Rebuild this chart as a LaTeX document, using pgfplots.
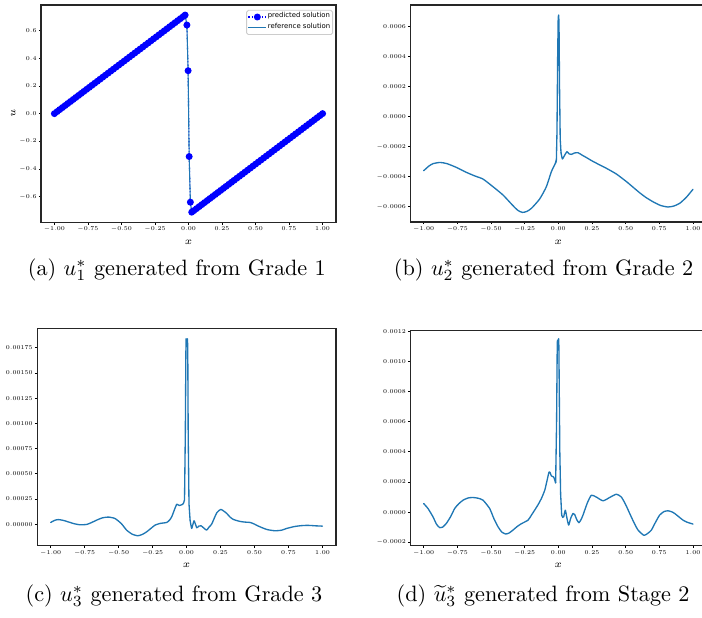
\RequirePackage{fix-cm}
\documentclass[border=0pt]{standalone}
\usepackage{fontspec}
\newfontfamily\legfont{DejaVu Sans}
\usepackage{pgfplots}
\pgfplotsset{compat=1.18}
\definecolor{mplblue}{HTML}{1F77B4}

% 1 px of the reference = 0.45pt
\pgfplotsset{
  panel/.style={
    scale only axis,
    xmin=-1.1, xmax=1.1,
    axis line style={line width=0.5pt, black!85},
    tick align=outside, tick pos=left,
    major tick length=1pt,
    every tick/.style={black, line width=0.35pt},
    tick label style={font=\fontsize{2.65}{3.2}\selectfont, inner sep=0.8pt},
    xtick={-1,-0.75,-0.5,-0.25,0,0.25,0.5,0.75,1},
    x tick label style={/pgf/number format/.cd, fixed, fixed zerofill, precision=2, /tikz/.cd},
    scaled ticks=false,
    xlabel={$x$},
    xlabel style={font=\fontsize{4.5}{5}\selectfont, at={(axis description cs:0.5,0)}, anchor=center, yshift=-9pt},
  },
  curve/.style={mplblue, line width=0.6pt, line cap=round, line join=round, smooth, tension=0.35},
  spike/.style={mplblue, line width=0.6pt, line cap=round, line join=round, sharp plot},
}

\begin{document}
\begin{tikzpicture}
\useasboundingbox (0,0) rectangle (315.9pt,278.1pt);

% (a)
\begin{axis}[panel, at={(18.45pt,178.07pt)}, anchor=south west,
  width=132.75pt, height=97.8pt,
  ymin=-0.785, ymax=0.785,
  ytick={-0.6,-0.4,-0.2,0,0.2,0.4,0.6},
  y tick label style={/pgf/number format/.cd, fixed, fixed zerofill, precision=1, /tikz/.cd},
  ylabel={$u$},
  ylabel style={font=\fontsize{4.5}{5}\selectfont, at={(axis description cs:0,0.5)}, anchor=center, yshift=12.5pt},
  legend style={at={(1,1)}, anchor=north east, xshift=-1.3pt, yshift=-2.2pt,
    font=\fontsize{3.1}{3.6}\selectfont\legfont, draw=black!20, rounded corners=0.8pt,
    inner sep=0.6pt, row sep=0pt, nodes={inner sep=0.5pt}, cells={anchor=west}},
  legend image code/.code={\draw[mark repeat=2,mark phase=2,#1] plot coordinates {(0cm,0cm) (0.14cm,0cm) (0.28cm,0cm)};},
]
\addplot[blue, densely dotted, line width=0.5pt, mark=*, mark size=1.3pt,
  mark options={solid, fill=blue, draw=blue}] coordinates {
(-1,0) (-0.98,0.0146) (-0.96,0.0292) (-0.94,0.0438) (-0.92,0.0584) (-0.9,0.073)
(-0.88,0.0876) (-0.86,0.1022) (-0.84,0.1168) (-0.82,0.1314) (-0.8,0.146)
(-0.78,0.1606) (-0.76,0.1752) (-0.74,0.1898) (-0.72,0.2044) (-0.7,0.219)
(-0.68,0.2336) (-0.66,0.2482) (-0.64,0.2628) (-0.62,0.2774) (-0.6,0.292)
(-0.58,0.3066) (-0.56,0.3212) (-0.54,0.3358) (-0.52,0.3504) (-0.5,0.365)
(-0.48,0.3796) (-0.46,0.3942) (-0.44,0.4088) (-0.42,0.4234) (-0.4,0.438)
(-0.38,0.4526) (-0.36,0.4672) (-0.34,0.4818) (-0.32,0.4964) (-0.3,0.511)
(-0.28,0.5256) (-0.26,0.5402) (-0.24,0.5548) (-0.22,0.5694) (-0.2,0.584)
(-0.18,0.5986) (-0.16,0.6132) (-0.14,0.6278) (-0.12,0.6424) (-0.1,0.657)
(-0.08,0.6716) (-0.06,0.6862) (-0.04,0.7008) (-0.025,0.712)
(-0.012,0.64) (-0.003,0.31) (0.005,-0.31) (0.014,-0.64)
(0.024,-0.712) (0.04,-0.7008) (0.06,-0.6862) (0.08,-0.6716) (0.1,-0.657)
(0.12,-0.6424) (0.14,-0.6278) (0.16,-0.6132) (0.18,-0.5986) (0.2,-0.584)
(0.22,-0.5694) (0.24,-0.5548) (0.26,-0.5402) (0.28,-0.5256) (0.3,-0.511)
(0.32,-0.4964) (0.34,-0.4818) (0.36,-0.4672) (0.38,-0.4526) (0.4,-0.438)
(0.42,-0.4234) (0.44,-0.4088) (0.46,-0.3942) (0.48,-0.3796) (0.5,-0.365)
(0.52,-0.3504) (0.54,-0.3358) (0.56,-0.3212) (0.58,-0.3066) (0.6,-0.292)
(0.62,-0.2774) (0.64,-0.2628) (0.66,-0.2482) (0.68,-0.2336) (0.7,-0.219)
(0.72,-0.2044) (0.74,-0.1898) (0.76,-0.1752) (0.78,-0.1606) (0.8,-0.146)
(0.82,-0.1314) (0.84,-0.1168) (0.86,-0.1022) (0.88,-0.0876) (0.9,-0.073)
(0.92,-0.0584) (0.94,-0.0438) (0.96,-0.0292) (0.98,-0.0146) (1,0)
};
\addlegendentry{predicted solution}
\addplot[mplblue, line width=0.5pt] coordinates {
(-1,0) (-0.025,0.712) (-0.012,0.64) (-0.003,0.31) (0.005,-0.31) (0.014,-0.64) (0.024,-0.712) (1,0)
};
\addlegendentry{reference solution}
\end{axis}

% (b)
\begin{axis}[panel, at={(184.6pt,178.2pt)}, anchor=south west,
  width=133.3pt, height=97.65pt,
  ymin=-0.000702, ymax=0.000745,
  ytick={-0.0006,-0.0004,-0.0002,0,0.0002,0.0004,0.0006},
  y tick label style={/pgf/number format/.cd, fixed, fixed zerofill, precision=4, /tikz/.cd},
]
\addplot[curve] coordinates {
(-1,-0.00036) (-0.96,-0.000328) (-0.93,-0.000313) (-0.88,-0.000305) (-0.83,-0.000312)
(-0.757,-0.000338) (-0.683,-0.000371) (-0.62,-0.000395) (-0.559,-0.000416)
(-0.485,-0.000467) (-0.411,-0.000522) (-0.337,-0.000593) (-0.30,-0.000625)
(-0.267,-0.000638) (-0.235,-0.000632) (-0.2,-0.000611) (-0.139,-0.000549)
(-0.089,-0.000467) (-0.052,-0.000367) (-0.022,-0.000311) (-0.0145,-0.00029)
};
\addplot[spike] coordinates {
(-0.022,-0.000311) (-0.0145,-0.00029) (-0.01,-0.0001) (-0.005,0.0004) (-0.001,0.00066)
(0.0026,0.000678) (0.005,0.00062) (0.009,0.0002) (0.014,-0.00015) (0.02,-0.00024)
};
\addplot[curve] coordinates {
(0.02,-0.00024) (0.03,-0.000282) (0.045,-0.00026) (0.064,-0.000233) (0.08,-0.000248)
(0.097,-0.000251) (0.12,-0.000242) (0.146,-0.00024) (0.18,-0.000258) (0.208,-0.000272)
(0.245,-0.000292) (0.3,-0.000318) (0.357,-0.000344) (0.431,-0.000382) (0.506,-0.000433)
(0.555,-0.00047) (0.604,-0.000507) (0.65,-0.000538) (0.703,-0.000567) (0.76,-0.000592)
(0.815,-0.000602) (0.86,-0.000595) (0.902,-0.000577) (0.95,-0.000538) (1,-0.000484)
};
\end{axis}

% (c)
\begin{axis}[panel, at={(16.7pt,32.5pt)}, anchor=south west,
  width=134.5pt, height=97.83pt,
  ymin=-0.000215, ymax=0.001943,
  ytick={0,0.00025,0.0005,0.00075,0.001,0.00125,0.0015,0.00175},
  y tick label style={/pgf/number format/.cd, fixed, fixed zerofill, precision=5, /tikz/.cd},
]
\addplot[curve] coordinates {
(-1,0.0000165) (-0.97,0.000038) (-0.944,0.000045) (-0.91,0.000038) (-0.882,0.000027)
(-0.83,0.000005) (-0.784,-0.000007) (-0.735,-0.000003) (-0.70,0.000015) (-0.661,0.00004)
(-0.62,0.000062) (-0.576,0.00007) (-0.527,0.000056) (-0.48,0.000005) (-0.441,-0.00006)
(-0.40,-0.0001) (-0.36,-0.000116) (-0.325,-0.000102) (-0.293,-0.000076) (-0.26,-0.00004)
(-0.232,-0.00001) (-0.195,0.0000066) (-0.146,0.0000165) (-0.125,0.00004) (-0.109,0.000073)
(-0.09,0.00014) (-0.072,0.000198) (-0.06,0.00019) (-0.053,0.000185) (-0.035,0.000192)
(-0.023,0.000205)
};
\addplot[spike] coordinates {
(-0.023,0.000205) (-0.015,0.00024) (-0.009,0.0009) (-0.005,0.0017) (-0.003,0.00184)
(0.002,0.00178) (0.007,0.00184) (0.009,0.0017) (0.012,0.0009) (0.018,0.0002) (0.026,0.00004)
};
\addplot[curve] coordinates {
(0.026,0.00004) (0.038,-0.000043)
(0.055,0.000033) (0.075,-0.000036) (0.09,-0.00002) (0.107,-0.0000165) (0.128,-0.00004)
(0.148,-0.00006) (0.165,-0.00003) (0.185,0) (0.222,0.000112) (0.252,0.000146)
(0.275,0.000128) (0.296,0.000106) (0.32,0.00007) (0.345,0.000046) (0.394,0.0000265)
(0.43,0.00002) (0.468,0.0000165) (0.5,0) (0.529,-0.00002) (0.59,-0.000053)
(0.651,-0.000066) (0.70,-0.00006) (0.737,-0.000043) (0.79,-0.000025) (0.835,-0.0000165)
(0.87,-0.000013) (0.908,-0.000013) (0.95,-0.000017) (1,-0.00002)
};
\end{axis}

% (d)
\begin{axis}[panel, at={(184.6pt,32.5pt)}, anchor=south west,
  width=133.3pt, height=97.07pt,
  ymin=-0.000223, ymax=0.001207,
  ytick={-0.0002,0,0.0002,0.0004,0.0006,0.0008,0.001,0.0012},
  y tick label style={/pgf/number format/.cd, fixed, fixed zerofill, precision=4, /tikz/.cd},
]
\addplot[curve] coordinates {
(-1,0.000057) (-0.968,0.000024) (-0.931,-0.000031) (-0.905,-0.00008) (-0.881,-0.000103)
(-0.86,-0.0001) (-0.832,-0.000075) (-0.80,-0.00003) (-0.77,0.000024) (-0.74,0.000055)
(-0.708,0.000079) (-0.67,0.000094) (-0.634,0.000097) (-0.595,0.000092) (-0.559,0.000079)
(-0.51,0.000024) (-0.48,-0.00004) (-0.448,-0.000097) (-0.42,-0.000132) (-0.391,-0.000145)
(-0.365,-0.000138) (-0.337,-0.000119) (-0.305,-0.000095) (-0.275,-0.000077) (-0.225,-0.000053)
(-0.2,-0.00002) (-0.176,0.000013) (-0.15,0.00005) (-0.126,0.00009) (-0.101,0.000145)
(-0.085,0.000205) (-0.069,0.000266) (-0.06,0.00026) (-0.052,0.00024) (-0.035,0.000233)
(-0.02,0.000194)
};
\addplot[spike] coordinates {
(-0.02,0.000194) (-0.013,0.0006) (-0.008,0.00112) (-0.006,0.00114) (-0.002,0.00108)
(0.002,0.00115) (0.004,0.0011) (0.007,0.0008) (0.011,0.0004) (0.017,0.00012) (0.025,-0.00002)
};
\addplot[curve] coordinates {
(0.025,-0.00002) (0.033,-0.000035)
(0.04,-0.00003) (0.052,0.000013) (0.064,-0.00004) (0.077,-0.000086) (0.092,-0.00004)
(0.109,-0.0000088) (0.121,-0.000015) (0.137,-0.00005) (0.153,-0.00007) (0.168,-0.00005)
(0.183,-0.00002) (0.215,0.00006) (0.245,0.000112) (0.282,0.0001) (0.332,0.000075)
(0.381,0.000097) (0.431,0.000119) (0.468,0.0001) (0.50,0.00005) (0.53,-0.0000088)
(0.562,-0.00007) (0.592,-0.000119) (0.636,-0.000154) (0.665,-0.00014) (0.691,-0.000119)
(0.72,-0.00007) (0.752,-0.00002) (0.785,0.000004) (0.814,0.0000088) (0.84,0.000003)
(0.864,-0.0000088) (0.926,-0.000053) (0.96,-0.000068) (1,-0.000079)
};
\end{axis}

% captions
\begin{scope}[font=\fontsize{10}{12}\selectfont]
\node[anchor=base] at (79.6pt,154.2pt) {(a) $u_1^*$ generated from Grade 1};
\node[anchor=base] at (244.6pt,154.2pt) {(b) $u_2^*$ generated from Grade 2};
\node[anchor=base] at (78.3pt,7.6pt) {(c) $u_3^*$ generated from Grade 3};
\node[anchor=base] at (244.4pt,7.6pt) {(d) $\widetilde{u}_3^*$ generated from Stage 2};
\end{scope}
\end{tikzpicture}
\end{document}
